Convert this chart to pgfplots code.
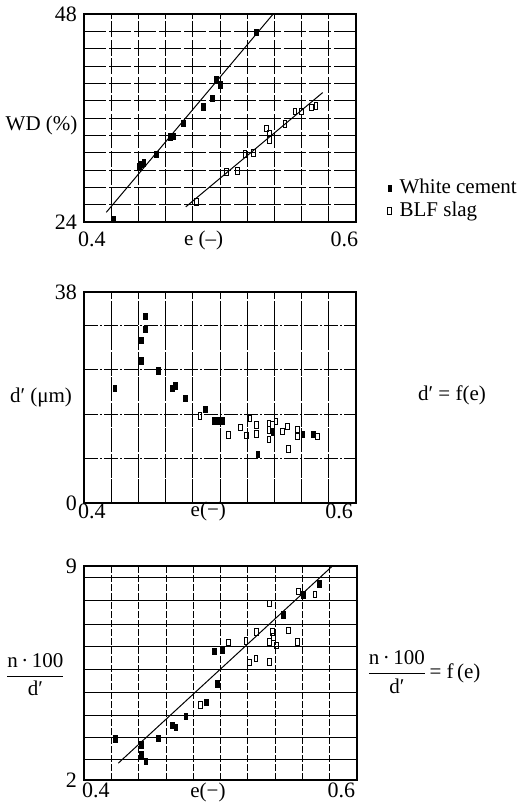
\documentclass[border=0pt]{standalone}
\usepackage{fontspec}
\setmainfont{Liberation Serif}
\usepackage{pgfplots}
\pgfplotsset{compat=1.18}
\pgfplotsset{
  panel/.style={
    scale only axis, clip=false,
    xmin=0.4, xmax=0.6,
    major tick length=0pt, minor tick length=0pt,
    axis line style={line width=1.2pt},
    grid=major,
    tick label style={font=\fontsize{22}{26}\selectfont},
    xtick={0.4,0.42,0.44,0.46,0.48,0.5,0.52,0.54,0.56,0.58,0.6},
  },
  wc/.style={only marks, mark=square*, mark size=3.2pt, mark options={xscale=0.6, fill=black, draw=black, line width=0.4pt}},
  blf/.style={only marks, mark=square, mark size=3.2pt, mark options={xscale=0.6, draw=black, fill=white, line width=0.9pt}},
}
\newcommand{\xa}[1]{\makebox[0pt][l]{\hspace{#1}0.4}}
\newcommand{\xb}[1]{\makebox[0pt][r]{0.6\hspace{#1}}}
\begin{document}
\fontsize{21}{25}\selectfont
\begin{tikzpicture}
\path[use as bounding box] (0,0) rectangle (530pt,-806pt);

% ---------- Panel 1 ----------
\begin{axis}[panel, at={(84pt,-222pt)}, anchor=south west, width=272pt, height=208pt,
  ymin=24, ymax=48,
  ytick={24,26,28,30,32,34,36,38,40,42,44,46,48},
  yticklabels={\mbox{24},,,,,,,,,,,,\mbox{48}},
  xticklabels={\xa{-6pt},,,,,,,,,,\xb{-2pt}},
  xticklabel style={yshift=-3pt},
  x grid style={black, line width=0.7pt, dash pattern=on 16pt off 2.5pt},
  y grid style={black, line width=0.8pt, dash pattern=on 22pt off 3pt},
  legend style={at={(axis description cs:1.105,0.225)}, anchor=north west, draw=none, fill=none,
    font=\fontsize{21}{25}\selectfont, row sep=1pt,
    /tikz/every odd column/.append style={column sep=6pt}},
  legend cell align=left]
\addplot[wc] coordinates {
(0.4213,24.35) (0.4405,30.37) (0.4422,30.68) (0.4439,30.83) (0.4533,31.83)
(0.4636,33.84) (0.4655,33.92) (0.4729,35.38) (0.4876,37.31) (0.4940,38.28)
(0.4969,40.40) (0.5004,39.82) (0.5269,45.88)};
\addlegendentry{White cement}
\addplot[blf] coordinates {
(0.4827,26.32) (0.5048,29.79) (0.5126,29.90) (0.5183,31.83) (0.5249,31.99)
(0.5342,34.80) (0.5362,34.23) (0.5362,33.45) (0.5477,35.31) (0.5551,36.73)
(0.5600,36.73) (0.5674,37.24) (0.5706,37.39)};
\addlegendentry{BLF slag}
\addplot[black, line width=1pt, forget plot] coordinates {(0.4164,25.12) (0.5391,48)};
\addplot[black, line width=1pt, forget plot] coordinates {(0.4748,25.74) (0.5755,38.93)};
\node at (axis description cs:-0.156,0.466) {WD (\%)};
\node at (axis description cs:0.44,-0.087) {e (–)};
\end{axis}

% ---------- Panel 2 ----------
\begin{axis}[panel, at={(84pt,-503pt)}, anchor=south west, width=272pt, height=211pt,
  ymin=0, ymax=38, ytick={0,8,16,24,32,38}, yticklabels={\mbox{0},,,,,\mbox{38}},
  xticklabels={\xa{-6pt},,,,,,,,,,\xb{3pt}},
  xticklabel style={yshift=6pt},
  x grid style={black, line width=0.7pt, dash pattern=on 24pt off 1.5pt},
  y grid style={black, line width=0.7pt, dash pattern=on 14pt off 2pt on 2pt off 2pt}]
\addplot[wc] coordinates {
(0.4226,20.66) (0.4420,25.63) (0.4420,29.36) (0.4452,31.28) (0.4452,33.68)
(0.4548,23.83) (0.4648,20.66) (0.4673,21.13) (0.4746,18.86) (0.4891,16.88)
(0.4955,14.82) (0.4980,14.82) (0.5016,14.82) (0.5277,8.82) (0.5387,12.79)
(0.5608,12.37) (0.5686,12.43)};
\addplot[blf] coordinates {
(0.4852,15.67) (0.5060,12.25) (0.5151,13.63) (0.5196,12.12) (0.5220,15.25)
(0.5269,14.05) (0.5269,12.43) (0.5360,14.35) (0.5360,13.15) (0.5360,11.47)
(0.5387,14.05) (0.5411,14.64) (0.5461,12.84) (0.5497,13.74) (0.5502,9.72)
(0.5568,13.27) (0.5568,11.94) (0.5715,11.94)};
\node at (axis description cs:-0.158,0.502) {d′ (μm)};
\node at (axis description cs:0.457,-0.038) {e(−)};
\end{axis}

% ---------- Panel 3 ----------
\begin{axis}[panel, at={(84pt,-780pt)}, anchor=south west, width=273pt, height=214pt,
  ymin=2, ymax=9,
  ytick={2,2.677,3.397,4.126,4.856,5.621,6.36,7.10,7.86,8.63,9},
  yticklabels={\mbox{2},,,,,,,,,,\mbox{9}},
  xticklabels={\xa{-2pt},,,,,,,,,,\xb{2pt}},
  xticklabel style={yshift=4pt},
  x grid style={black, line width=0.7pt, dash pattern=on 7pt off 2pt},
  y grid style={black, line width=0.9pt}]
\addplot[wc] coordinates {
(0.4227,3.35) (0.4420,3.16) (0.4420,2.83) (0.4452,2.61) (0.4544,3.37)
(0.4647,3.79) (0.4672,3.73) (0.4745,4.09) (0.4894,4.55) (0.4977,5.15)
(0.4952,6.21) (0.5016,6.24) (0.5460,7.41) (0.5607,8.06) (0.5724,8.42)};
\addplot[blf] coordinates {
(0.4855,4.46) (0.5057,6.49) (0.5187,6.55) (0.5211,5.84) (0.5260,5.97)
(0.5265,6.84) (0.5358,7.77) (0.5358,5.86) (0.5358,6.51) (0.5382,6.84)
(0.5387,6.68) (0.5412,6.41) (0.5497,6.90) (0.5563,6.51) (0.5570,8.17)
(0.5692,8.06)};
\addplot[black, line width=1pt] coordinates {(0.4251,2.55) (0.5820,9.0)};
\node at (axis description cs:-0.178,0.491) {$\displaystyle\frac{\mbox{n\,·\,100}}{\mbox{d′}}$};
\node at (axis description cs:0.454,-0.056) {e(−)};
\end{axis}

% right-hand texts
\node at (452pt,-395pt) {d′ = f(e)};
\node at (424pt,-672pt) {$\displaystyle\frac{\mbox{n\,·\,100}}{\mbox{d′}}$\,= f\,(e)};
\end{tikzpicture}
\end{document}
